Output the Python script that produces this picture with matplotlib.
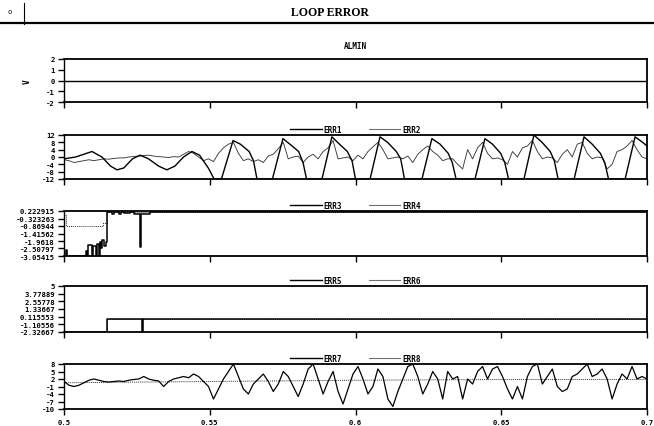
import numpy as np
import matplotlib
matplotlib.use("Agg")
import matplotlib.pyplot as plt
from matplotlib.lines import Line2D

plt.rcParams['axes.unicode_minus'] = False
MONO = 'DejaVu Sans Mono'

# ---------------- data ----------------
almin_t = [0.5, 0.7]
almin_v = [0.0, 0.0]

err1_t = [0.5000, 0.5040, 0.5096, 0.5130, 0.5160, 0.5182, 0.5205, 0.5235, 0.5261, 0.5290,
          0.5325, 0.5353, 0.5380, 0.5410, 0.5439, 0.5465, 0.5495, 0.5515, 0.5540, 0.5580,
          0.5605, 0.5635, 0.5650, 0.5662, 0.5715, 0.5751, 0.5775, 0.5805, 0.5820, 0.5832,
          0.5885, 0.5919, 0.5945, 0.5972, 0.5988, 0.6000, 0.6050, 0.6084, 0.6110, 0.6140,
          0.6155, 0.6168, 0.6228, 0.6262, 0.6290, 0.6318, 0.6332, 0.6345, 0.6410, 0.6444,
          0.6470, 0.6498, 0.6512, 0.6525, 0.6578, 0.6612, 0.6640, 0.6668, 0.6682, 0.6695,
          0.6750, 0.6784, 0.6812, 0.6840, 0.6855, 0.6868, 0.6925, 0.6959, 0.6985, 0.7000]
err1_v = [-1, 0, 3, 0, -5, -7, -6, -1, 1, -1,
          -5, -7, -5, 0, 3, 1, -6, -12, -12, 9,
          7, 3, -2, -12, -12, 10, 7, 3, -3, -12,
          -12, 11, 7, 3, -2, -12, -12, 11, 8, 3,
          -1, -12, -12, 10, 7, 2, -3, -12, -12, 10,
          7, 2, -3, -12, -12, 12, 8, 3, -2, -12,
          -12, 11, 7, 2, -3, -12, -12, 11, 8, 6]

err2_v = [-1.5, -2, -3, -2.5, -2, -1.5, -2, -1.5, -1, -1.2,
          -0.8, -0.5, -0.5, 0, 0.3, 0.5, 0.8, 1, 0.5, 0.2,
          0, -0.3, 0.2, 0, 1.5, 3, 2, 0, -2, -1,
          -2.5, 2, 5, 7, 8, 2, -2, -1, -2.5, -1.5,
          -3, 0.5, 1.5, 4.5, 8, -1, 0, 0.5, -3, 0,
          1.5, -1, 3, 5, 9, -1, -0.5, 0, -2, 1,
          -1, 3, 5.5, 8, 4, -1, -0.5, 0, -1, 0.5,
          -3, 1.5, 4, 6, 3, 1, -2, -1, -1, -4,
          -6.5, 4, -1, 5, 8, 2, -1, -0.5, -1.5, -4,
          3, 0, 5, 6, 9, 3, -1, 0, -0.5, -3,
          1.5, 4, 0, 7, 8, 2, -1, 0, -0.5, -6.5,
          -4, 3, 4, 6, 9, 4, 0, -1]

err3_t = [0.5000, 0.50069, 0.50103, 0.50206, 0.50755, 0.50789, 0.50823, 0.50961, 0.50995,
          0.51098, 0.51132, 0.51201, 0.51235, 0.51269, 0.51304, 0.51372, 0.51441, 0.51475,
          0.51647, 0.51715, 0.51887, 0.51955, 0.52058, 0.52264, 0.52401, 0.52504, 0.52607,
          0.52642, 0.5295, 0.7000]
err3_v = [-3.05, -2.6, -3.05, -3.05, -2.7, -3.05, -2.25, -3.05,
          -2.3, -3.05, -2.2, -3.05, -2.0, -2.5, -1.9, -2.3, -2.0, 0.15,
          0.0, 0.15, 0.0, 0.18, 0.05, 0.15, 0.0, 0.0, -2.4,
          0.0, 0.17, 0.17]

err4_t = [0.5000, 0.50069, 0.5134, 0.51475, 0.7000]
err4_v = [-0.1, -0.87, -0.62, 0.15, 0.15]

err5_t = [0.5000, 0.51475, 0.52660, 0.52710, 0.7000]
err5_v = [-2.32667, -0.25, -2.32667, -0.25, -0.25]
err6_t = [0.5000, 0.51475, 0.7000]
err6_v = [-2.32667, -0.25, -0.25]

err7_v = [1, -0.5, -1, -0.5, 0.5, 1.5, 2, 1.5, 1, 0.8,
          1, 1.2, 1, 1.5, 1.8, 2, 3, 2, 1.5, 1.2,
          -1, 1, 2, 2.5, 3, 2.5, 4, 3, 1, -1,
          -6, -2, 2, 5, 8, 3, -2, -4, 0, 2,
          4, 1, -3, 0, 5, 3, -1, -5, 0, 6,
          8, 2, -4, 1, 5, -3, -8, -2, 4, 7,
          2, -4, -1, 6, 3, -6, -9, -3, 2, 7,
          8, 3, -4, 0, 5, 2, -6, 5, 2, 3,
          -6, 2, 0, 5, 7, 2, 6, 7, 3, -2,
          -6, -1, -6, 3, 7, 8, 0, 3, 6, -1,
          -3, -2, 3, 4, 6, 8, 3, 4, 6, 2,
          -6, 0, 4, 2, 7, 2, 3, 2]
err8_t = [0.5, 0.55, 0.6, 0.65, 0.7]
err8_v = [0.5, 1.0, 1.5, 1.8, 1.8]

xticks = [0.5, 0.55, 0.6, 0.65, 0.7]
xtick_labels = ['0.5', '0.55', '0.6', '0.65', '0.7']
p1_ticks = [2, 1, 0, -1, -2]
p2_ticks = [12, 8, 4, 0, -4, -8, -12]
p3_ticks = [0.222915, -0.323263, -0.86944, -1.41562, -1.9618, -2.50797, -3.05415]
p3_labels = ['0.222915', '-0.323263', '-0.86944', '-1.41562', '-1.9618', '-2.50797', '-3.05415']
p4_ticks = [5, 3.77889, 2.55778, 1.33667, 0.115553, -1.10556, -2.32667]
p4_labels = ['5', '3.77889', '2.55778', '1.33667', '0.115553', '-1.10556', '-2.32667']
p5_ticks = [8, 5, 2, -1, -4, -7, -10]

# ---------------- figure ----------------
W, H = 654, 427
fig = plt.figure(figsize=(W / 100, H / 100), dpi=100)

def add_ax(top, bottom):
    return fig.add_axes([64 / W, 1 - bottom / H, (647 - 64) / W, (bottom - top) / H])

panels = [(60, 103), (136, 180), (212, 257), (287, 333), (365, 410)]
axes = [add_ax(t, b) for t, b in panels]

FS = 5.2

def style(ax, ticks, labels, ylim, show_x=False):
    ax.set_xlim(0.5, 0.7)
    ax.set_ylim(*ylim)
    ax.set_yticks(ticks)
    ax.set_yticklabels(labels, fontfamily=MONO, fontsize=FS, fontweight='bold')
    ax.set_xticks(xticks)
    if show_x:
        ax.set_xticklabels(xtick_labels, fontfamily=MONO, fontsize=FS, fontweight='bold')
    else:
        ax.set_xticklabels([])
    ax.tick_params(axis='y', direction='out', length=4.5, width=1.0, pad=2)
    ax.tick_params(axis='x', direction='out', length=4, width=1.0, pad=3)
    for s in ax.spines.values():
        s.set_linewidth(1.3)
        s.set_color('black')
    ax.spines['left'].set_linewidth(1.0)

def legend(ax, n1, n2):
    h = [Line2D([], [], color='black', lw=1.0),
         Line2D([], [], color='black', lw=0.8, ls=(0, (1, 0.8)))]
    ax.legend(h, [n1, n2], loc='lower center', bbox_to_anchor=(0.5, 1.02), ncol=2,
              frameon=False, handlelength=4.2, handletextpad=0.1, columnspacing=3.6,
              borderpad=0, borderaxespad=0,
              prop={'family': MONO, 'size': FS + 0.3, 'weight': 'bold'})

# Panel 1
ax = axes[0]
ax.plot(almin_t, almin_v, color='black', lw=1.0)
style(ax, p1_ticks, [str(v) for v in p1_ticks], (-2, 2))
ax.set_title('ALMIN', fontfamily=MONO, fontsize=FS + 0.3, fontweight='bold', pad=8)
ax.set_ylabel('V', fontfamily=MONO, fontsize=FS + 0.5, fontweight='bold')
ax.yaxis.set_label_coords(-0.056, 0.5)

# Panel 2
ax = axes[1]
t2 = np.linspace(0.5, 0.7, len(err2_v))
ax.plot(t2, err2_v, color='#3a3a3a', lw=0.65)
ax.plot(err1_t, err1_v, color='black', lw=1.0)
style(ax, p2_ticks, [str(v) for v in p2_ticks], (-12, 12))
legend(ax, 'ERR1', 'ERR2')

# Panel 3
ax = axes[2]
ax.plot(err4_t, err4_v, color='#333333', lw=0.7, ls=(0, (1, 1)), drawstyle='steps-post')
ax.plot(err3_t, err3_v, color='black', lw=1.1, drawstyle='steps-post')
style(ax, p3_ticks, p3_labels, (-3.05415, 0.222915))
legend(ax, 'ERR3', 'ERR4')

# Panel 4
ax = axes[3]
ax.plot(err6_t, err6_v, color='#333333', lw=0.7, ls=(0, (1, 1)), drawstyle='steps-post')
ax.plot(err5_t, err5_v, color='black', lw=1.1, drawstyle='steps-post')
style(ax, p4_ticks, p4_labels, (-2.32667, 5))
legend(ax, 'ERR5', 'ERR6')

# Panel 5
ax = axes[4]
t7 = np.linspace(0.5, 0.7, len(err7_v))
ax.plot(err8_t, err8_v, color='#333333', lw=0.7, ls=(0, (1, 1)))
ax.plot(t7, err7_v, color='black', lw=0.9)
style(ax, p5_ticks, [str(v) for v in p5_ticks], (-10, 8), show_x=True)
legend(ax, 'ERR7', 'ERR8')

# Header
fig.text(330 / W, 1 - 13 / H, 'LOOP ERROR', ha='center', va='center',
         fontfamily='Liberation Serif', fontsize=8.5, fontweight='bold')
fig.text(10 / W, 1 - 12 / H, 'o', ha='center', va='center', fontfamily=MONO, fontsize=5)
fig.add_artist(Line2D([0, 1], [1 - 24 / H] * 2, transform=fig.transFigure, color='black', lw=1.6))
fig.add_artist(Line2D([24 / W, 24 / W], [1 - 4 / H, 1 - 25 / H], transform=fig.transFigure, color='black', lw=0.8))

fig.savefig('out.png', dpi=100)
